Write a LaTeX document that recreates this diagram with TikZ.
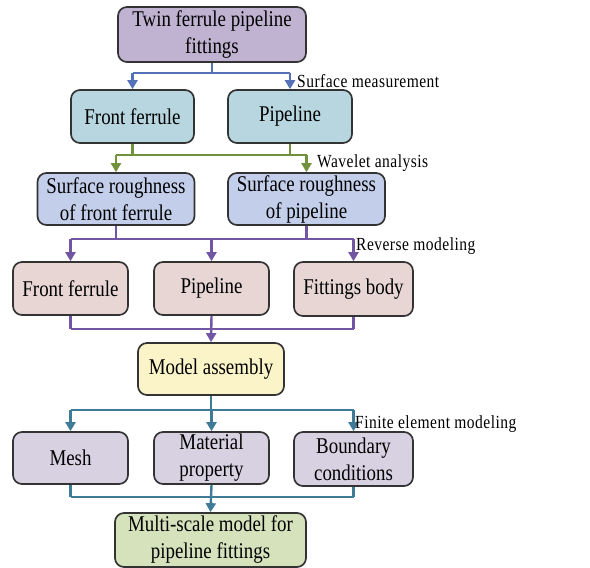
\documentclass[tikz,border=0pt]{standalone}
\usepackage{fontspec}
\setmainfont{Liberation Serif}
\newfontfamily\boxfont[FakeStretch=0.84]{Liberation Serif}
\newfontfamily\lblfont[FakeStretch=0.84,LetterSpace=2.5]{Liberation Serif}
\usetikzlibrary{arrows.meta,calc}
\definecolor{cTop}{HTML}{C0B3D2}
\definecolor{cCyan}{HTML}{B7D6DF}
\definecolor{cRough}{HTML}{C3CFEA}
\definecolor{cPink}{HTML}{E7D6D4}
\definecolor{cYel}{HTML}{FBF4C8}
\definecolor{cLav}{HTML}{D7D1E2}
\definecolor{cGrn}{HTML}{D5E2BC}
\definecolor{lBlue}{HTML}{5572B8}
\definecolor{lGreen}{HTML}{71923A}
\definecolor{lPurp}{HTML}{7256A3}
\definecolor{lTeal}{HTML}{3F7A96}
\definecolor{bord}{HTML}{333333}
\tikzset{
  box/.style={draw=bord, line width=1.7pt, rounded corners=9pt, align=center,
    inner sep=0pt, font=\boxfont\fontsize{22.5}{27}\selectfont},
  conn/.style={line width=2.4pt},
  arr/.style={-{Triangle[length=9pt,width=10pt]}},
  lbl/.style={anchor=west, inner sep=0pt, font=\lblfont\fontsize{18.5}{20}\selectfont},
}
\begin{document}
\begin{tikzpicture}[x=1pt,y=-1pt]
\useasboundingbox (0,0) rectangle (590,568);
% nodes
\node[box, fill=cTop, minimum width=188pt, minimum height=55pt] (top) at (212,34.5) {Twin ferrule pipeline\\fittings};
\node[box, fill=cCyan, minimum width=123pt, minimum height=53pt] (ff1) at (132.5,116.5) {Front ferrule};
\node[box, fill=cCyan, minimum width=124pt, minimum height=53pt] (pl1) at (290,116.5) {Pipeline};
\node[box, fill=cRough, minimum width=157pt, minimum height=52pt] (sr1) at (116,199) {Surface roughness\\of front ferrule};
\node[box, fill=cRough, minimum width=157pt, minimum height=52pt] (sr2) at (306.5,199) {Surface roughness\\of pipeline};
\node[box, fill=cPink, minimum width=115pt, minimum height=53pt] (ff2) at (70.5,288.5) {Front ferrule};
\node[box, fill=cPink, minimum width=115pt, minimum height=53pt] (pl2) at (211.5,288.5) {Pipeline};
\node[box, fill=cPink, minimum width=119pt, minimum height=54pt] (fb) at (353.5,289) {Fittings body};
\node[box, fill=cYel, minimum width=146pt, minimum height=52pt] (ma) at (211,369) {Model assembly};
\node[box, fill=cLav, minimum width=115pt, minimum height=52pt] (mesh) at (70.5,458) {Mesh};
\node[box, fill=cLav, minimum width=115pt, minimum height=52pt] (mp) at (211.5,458) {Material\\property};
\node[box, fill=cLav, minimum width=119pt, minimum height=54pt] (bc) at (353.5,459) {Boundary\\conditions};
\node[box, fill=cGrn, minimum width=191pt, minimum height=54pt] (ms) at (210.5,540) {Multi-scale model for\\pipeline fittings};
% bus coordinates
\coordinate (b1) at (0,73);
\coordinate (b2) at (0,155);
\coordinate (b3) at (0,239);
\coordinate (b4) at (0,329);
\coordinate (b5) at (0,410);
\coordinate (b6) at (0,497);
% level 1
\draw[conn, lBlue] (top.south) -- (top.south |- b1);
\draw[conn, lBlue] (ff1.north |- b1) -- (pl1.north |- b1);
\draw[conn, lBlue, arr] (ff1.north |- b1) -- (ff1.north);
\draw[conn, lBlue, arr] (pl1.north |- b1) -- (pl1.north);
% level 2
\draw[conn, lGreen] (ff1.south) -- (ff1.south |- b2);
\draw[conn, lGreen] (pl1.south) -- (pl1.south |- b2);
\draw[conn, lGreen] (sr1.north |- b2) -- (sr2.north |- b2);
\draw[conn, lGreen, arr] (sr1.north |- b2) -- (sr1.north);
\draw[conn, lGreen, arr] (sr2.north |- b2) -- (sr2.north);
% level 3
\draw[conn, lPurp] (sr1.south) -- (sr1.south |- b3);
\draw[conn, lPurp] (sr2.south) -- (sr2.south |- b3);
\draw[conn, lPurp] (ff2.north |- b3) -- (fb.north |- b3);
\draw[conn, lPurp, arr] (ff2.north |- b3) -- (ff2.north);
\draw[conn, lPurp, arr] (pl2.north |- b3) -- (pl2.north);
\draw[conn, lPurp, arr] (fb.north |- b3) -- (fb.north);
% level 4
\draw[conn, lPurp] (ff2.south) -- (ff2.south |- b4);
\draw[conn, lPurp] (fb.south) -- (fb.south |- b4);
\draw[conn, lPurp] (ff2.south |- b4) -- (fb.south |- b4);
\draw[conn, lPurp, arr] (pl2.south) -- (ma.north);
% level 5
\draw[conn, lTeal] (ma.south) -- (ma.south |- b5);
\draw[conn, lTeal] (mesh.north |- b5) -- (bc.north |- b5);
\draw[conn, lTeal, arr] (mesh.north |- b5) -- (mesh.north);
\draw[conn, lTeal, arr] (mp.north |- b5) -- (mp.north);
\draw[conn, lTeal, arr] (bc.north |- b5) -- (bc.north);
% level 6
\draw[conn, lTeal] (mesh.south) -- (mesh.south |- b6);
\draw[conn, lTeal] (bc.south) -- (bc.south |- b6);
\draw[conn, lTeal] (mesh.south |- b6) -- (bc.south |- b6);
\draw[conn, lTeal, arr] (mp.south) -- (ms.north);
% labels
\node[lbl] (l1) at (297,81) {Surface measurement};
\node[lbl] (l2) at (317,163) {Wavelet analysis};
\node[lbl] (l3) at (356,246) {Reverse modeling};
\node[lbl] (l4) at (355,424) {Finite element modeling};
\end{tikzpicture}
\end{document}
